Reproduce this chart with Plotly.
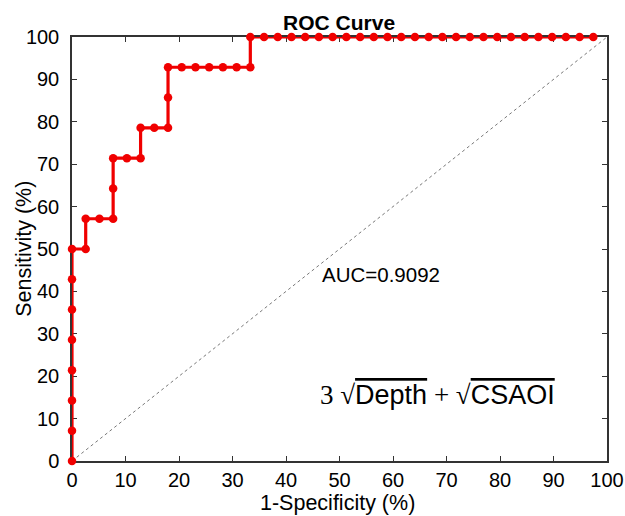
import plotly.graph_objects as go

# ROC points (percent)
fpr = [0, 0, 0, 0, 0, 0, 0, 0,
       2.56, 2.56, 5.13, 7.69, 7.69, 7.69, 10.26, 12.82, 12.82, 15.38, 17.95, 17.95, 17.95,
       20.51, 23.08, 25.64, 28.21, 30.77, 33.33, 33.33,
       35.90, 38.46, 41.03, 43.59, 46.15, 48.72, 51.28, 53.85, 56.41, 58.97, 61.54, 64.10,
       66.67, 69.23, 71.79, 74.36, 76.92, 79.49, 82.05, 84.62, 87.18, 89.74, 92.31, 94.87, 97.44]
tpr = [0, 7.14, 14.29, 21.43, 28.57, 35.71, 42.86, 50,
       50, 57.14, 57.14, 57.14, 64.29, 71.43, 71.43, 71.43, 78.57, 78.57, 78.57, 85.71, 92.86,
       92.86, 92.86, 92.86, 92.86, 92.86, 92.86, 100,
       100, 100, 100, 100, 100, 100, 100, 100, 100, 100, 100, 100,
       100, 100, 100, 100, 100, 100, 100, 100, 100, 100, 100, 100, 100]

ref_x = [0, 100]
ref_y = [0, 100]

title_text = "ROC Curve"
x_title = "1-Specificity (%)"
y_title = "Sensitivity (%)"
auc_text = "AUC=0.9092"
ticks = [0, 10, 20, 30, 40, 50, 60, 70, 80, 90, 100]

fig = go.Figure()
fig.add_trace(go.Scatter(x=ref_x, y=ref_y, mode="lines",
                         line=dict(color="#555555", width=0.8, dash="dot"),
                         hoverinfo="skip", showlegend=False))
fig.add_trace(go.Scatter(x=fpr, y=tpr, mode="lines+markers",
                         line=dict(color="#f00000", width=3.2),
                         marker=dict(color="#f00000", size=8.5),
                         cliponaxis=False, showlegend=False))

serif = "Liberation Serif, Times New Roman, serif"
formula = ("<span style='font-family:%s'>3 √</span>"
           "<span style='text-decoration:overline'>Depth</span>"
           "<span style='font-family:%s'> + √</span>"
           "<span style='text-decoration:overline'>CSAOI</span>") % (serif, serif)

fig.add_annotation(x=57.8, y=43.9, text=auc_text, showarrow=False,
                   font=dict(size=20.5, color="black"))
fig.add_annotation(x=68.4, y=15.6, text=formula, showarrow=False,
                   font=dict(size=27, color="black"))

# axis titles as paper-anchored annotations
fig.add_annotation(xref="paper", yref="paper", x=0.497, y=-0.099, text=x_title,
                   showarrow=False, xanchor="center", yanchor="middle",
                   font=dict(size=21.5, color="black"))
fig.add_annotation(xref="paper", yref="paper", x=-0.09, y=0.5, text=y_title,
                   showarrow=False, xanchor="center", yanchor="middle", textangle=-90,
                   font=dict(size=21.5, color="black"))

axis_common = dict(range=[0, 100], tickvals=ticks, ticks="inside", ticklen=5,
                   tickwidth=1.2, tickcolor="#333333", showline=True,
                   linecolor="#333333", linewidth=1.5, mirror="ticks",
                   showgrid=False, zeroline=False, layer="below traces",
                   automargin=False,
                   tickfont=dict(size=20, color="black"))

fig.update_layout(
    width=625, height=516,
    margin=dict(l=72, r=18, t=37, b=55),
    paper_bgcolor="white", plot_bgcolor="white",
    font=dict(family="Liberation Sans, Arial, sans-serif", color="black"),
    title=dict(text="<b>" + title_text + "</b>", x=0.5425, xanchor="center",
               y=0.957, yanchor="middle", font=dict(size=21, color="black")),
    xaxis=dict(axis_common, ticklabelstandoff=0),
    yaxis=dict(axis_common, ticklabelstandoff=7),
)

fig.write_html("out.html", config={"displayModeBar": False},
               post_script="document.body.style.margin='0px';")
